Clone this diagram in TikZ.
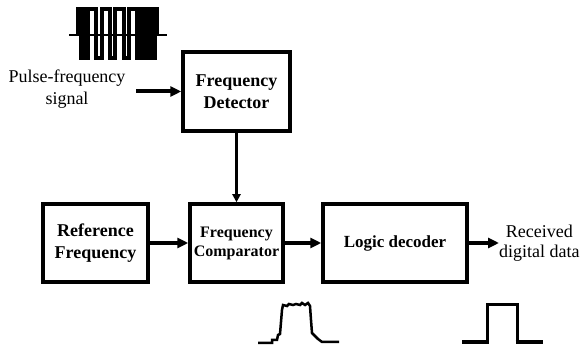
\documentclass[tikz,border=0pt]{standalone}
\usepackage{fontspec}
\setmainfont{Liberation Serif}
\usetikzlibrary{arrows.meta}

\begin{document}
\begin{tikzpicture}[x=1pt, y=-1pt, >={Triangle[length=11pt,width=10pt]},
    font=\fontsize{18}{22}\selectfont, align=center,
    block/.style={draw, line width=3.5pt, inner sep=0pt, minimum height=78pt,
        font=\fontsize{18}{22}\selectfont\bfseries},
    link/.style={line width=4pt, ->},
    wave/.style={line width=2.5pt, line join=miter}]
    \useasboundingbox (0,0) rectangle (584,347);
    \node[block, minimum width=107pt, minimum height=79pt] (det) at (236.5,91.5) {Frequency\\Detector};
    \node[block, minimum width=105pt] (ref) at (95.5,243) {Reference\\Frequency};
    \node[block, minimum width=93pt, font=\fontsize{16}{19}\selectfont\bfseries] (cmp) at (236.5,243) {Frequency\\Comparator};
    \node[block, minimum width=144pt, font=\fontsize{17}{22}\selectfont\bfseries] (dec) at (395,243) {Logic decoder};
    \node (sig) at (67,89) {Pulse-frequency\\signal};
    \node[anchor=west, inner sep=0pt, font=\fontsize{18}{20}\selectfont] (rx) at (499,243) {Received\\digital data};
    \coordinate (sigin) at (136,91.5);
    \coordinate (rxin) at (rx.west);
    \path[link] (sigin) edge (det)
                (ref) edge (cmp)
                (cmp) edge (dec)
                (dec) edge (rxin);
    \path[line width=3pt, ->, >={Triangle[length=8pt,width=8pt]}] (det) edge (cmp);
    % pulse-frequency burst
    \draw[line width=2pt] (69,35) -- (167,35);
    \draw[wave, line width=3.5pt] (78,35) -- (78,9) -| (80.5,58) -| (83,9) -| (85.5,58) -| (88,9)
        -| (96,58) -| (102,9) -| (110,58) -| (115,9) -| (124,58) -| (129,9)
        -| (137,58) -| (140,9) -| (142.5,58) -| (145,9) -| (147.5,58)
        -| (150,9) -| (152.5,58) -| (155,9) -| (157,35);
    % comparator output
    \draw[wave] (258,343) -- (272,343) -- (272,340) -- (277,340) -- (278,335)
        -- (280,334) -- (281,322) -- (282,310) -- (283,305) -- (287,306)
        -- (289,304) -- (293,305) -- (296,304) -- (300,305) -- (302,303)
        -- (305,305) -- (308,303) -- (310,306) -- (311,320) -- (312,333)
        -- (315,336) -- (318,339) -- (322,342) -- (339,342);
    % decoder output
    \draw[line width=3pt] (487,342) |- (517,305) -- (517,342);
    \draw[line width=4pt] (462,342) -- (488.5,342) (515.5,342) -- (543,342);
\end{tikzpicture}
\end{document}
